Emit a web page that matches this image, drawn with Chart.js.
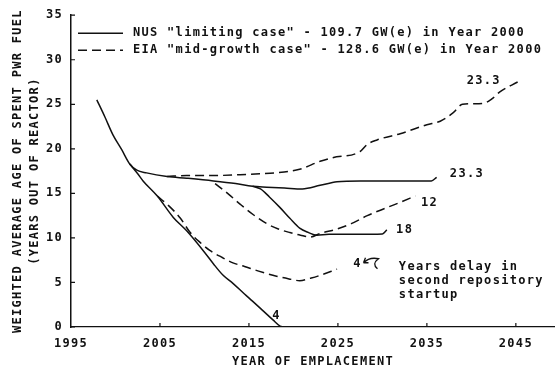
<!DOCTYPE html>
<html>
<head>
<meta charset="utf-8">
<script src="https://cdn.jsdelivr.net/npm/chart.js@4.4.0/dist/chart.umd.min.js"></script>
<style>
  html, body { margin:0; padding:0; background:#fff; }
  #wrap { width:555px; height:369px; position:relative; }
</style>
</head>
<body>
<div id="wrap"><canvas id="chart"></canvas></div>
<script>
/* spent PWR fuel age vs year of emplacement */

const xTickYears = [1995, 2005, 2015, 2025, 2035, 2045];

// NUS "limiting case" (solid)
const nusLimitYears = [1997.9, 1998.8, 1999.7, 2000.7, 2001.6, 2002.4, 2003.5, 2005.8, 2008, 2011, 2013.5, 2015.4, 2017, 2019, 2021, 2023, 2024.9, 2027.5, 2030, 2033, 2035.5, 2036.1];
const nusLimitAges  = [25.5, 23.6, 21.6, 19.9, 18.3, 17.6, 17.3, 16.9, 16.7, 16.4, 16.1, 15.8, 15.7, 15.6, 15.5, 15.9, 16.3, 16.4, 16.4, 16.4, 16.4, 16.8];

const nus18Years = [2015.4, 2016.3, 2017.3, 2018.5, 2019.6, 2020.7, 2021.7, 2022.6, 2024, 2027, 2030, 2030.5];
const nus18Ages  = [15.8, 15.5, 14.6, 13.4, 12.2, 11.1, 10.6, 10.3, 10.4, 10.4, 10.45, 10.9];

const nus4Years = [2001.6, 2002.5, 2003.1, 2004.7, 2006.5, 2008, 2010, 2011, 2012.1, 2013.2, 2014.5, 2015.4, 2016.5, 2017.7, 2018.5, 2018.9];
const nus4Ages  = [18.3, 17.2, 16.4, 14.7, 12.3, 10.8, 8.4, 7.1, 5.8, 4.9, 3.7, 2.9, 1.9, 0.8, 0.1, 0];

// EIA "mid-growth case" (dashed)
const eiaMidYears = [2005.8, 2008, 2011, 2014, 2016.2, 2018, 2020.7, 2023, 2024.4, 2027.5, 2028.3, 2029.4, 2032, 2035, 2036.5, 2037.9, 2039, 2041.3, 2042.3, 2043.2, 2045.2];
const eiaMidAges  = [16.9, 17.0, 17.0, 17.1, 17.2, 17.3, 17.7, 18.6, 19.0, 19.7, 20.5, 21.0, 21.7, 22.7, 23.1, 24.0, 25.0, 25.1, 25.6, 26.4, 27.5];

const eia12Years = [2011.2, 2012.6, 2014, 2015.5, 2017, 2018.3, 2019.6, 2020.8, 2021.9, 2023, 2024.9, 2026.5, 2028.3, 2030.5, 2032, 2033.7];
const eia12Ages  = [16.1, 15.0, 13.8, 12.6, 11.6, 11.0, 10.6, 10.3, 10.1, 10.5, 11.0, 11.6, 12.5, 13.4, 14.0, 14.7];

const eia4Years = [2004.7, 2006, 2007.3, 2008.4, 2009.5, 2010.6, 2012, 2013.2, 2014.5, 2016, 2018.1, 2019.5, 2020.7, 2022, 2023, 2024.9];
const eia4Ages  = [14.7, 13.6, 12.2, 10.6, 9.5, 8.6, 7.8, 7.2, 6.8, 6.3, 5.7, 5.4, 5.2, 5.5, 5.8, 6.5];

const legendTexts = [
  'NUS "limiting case" - 109.7 GW(e) in Year 2000',
  'EIA "mid-growth case" - 128.6 GW(e) in Year 2000'
];

const curveLabels     = ['23.3', '23.3', '12', '18', '4', '4'];
const curveLabelYears = [2041.4, 2039.5, 2035.3, 2032.5, 2018.1, 2027.2];
const curveLabelAges  = [27.6, 17.2, 13.9, 10.9, 1.3, 7.1];

const noteLines = ['Years delay in', 'second repository', 'startup'];
const noteYear = 2031.85;
const noteAges = [6.8, 5.2, 3.6];

const INK = '#111';
const FONT = '"DejaVu Sans Mono", "Liberation Mono", monospace';
const DASH = [9, 5];

function pts(xs, ys){
  return xs.map((x, i) => ({ x, y: ys[i] }));
}

function line(data, dashed){
  return {
    data,
    borderColor: INK,
    borderWidth: 1.5,
    borderDash: dashed ? DASH : [],
    pointRadius: 0,
    fill: false,
    cubicInterpolationMode: 'monotone'
  };
}

const plotterText = {
  id: 'plotterText',
  beforeDraw(chart){
    chart.ctx.letterSpacing = '1.3px';
  },
  afterDatasetsDraw(chart){
    const { ctx, chartArea: a, scales: { x, y } } = chart;
    ctx.save();
    ctx.letterSpacing = '1.3px';
    ctx.strokeStyle = INK;
    ctx.fillStyle = INK;
    ctx.lineWidth = 1.2;

    // small inward tick marks
    ctx.beginPath();
    for (let v = 0; v <= 35; v += 5){
      const py = y.getPixelForValue(v);
      ctx.moveTo(a.left, py); ctx.lineTo(a.left + 4, py);
    }
    xTickYears.slice(1).forEach(t => {
      const px = x.getPixelForValue(t);
      ctx.moveTo(px, a.bottom); ctx.lineTo(px, a.bottom - 4);
    });
    ctx.stroke();

    // legend
    ctx.font = 'bold 12px ' + FONT;
    ctx.textBaseline = 'middle';
    ctx.textAlign = 'left';
    ctx.lineWidth = 1.5;
    legendTexts.forEach((t, i) => {
      const ly = a.top + 18 + i * 17;
      ctx.setLineDash(i === 0 ? [] : DASH);
      ctx.beginPath();
      ctx.moveTo(a.left + 7, ly); ctx.lineTo(a.left + 52, ly);
      ctx.stroke();
      ctx.fillText(t, a.left + 62, ly);
    });
    ctx.setLineDash([]);

    // curve labels
    ctx.textAlign = 'center';
    curveLabels.forEach((t, i) => {
      ctx.fillText(t, x.getPixelForValue(curveLabelYears[i]), y.getPixelForValue(curveLabelAges[i]));
    });

    // little hooked arrow next to the dashed "4"
    const ax = x.getPixelForValue(curveLabelYears[5]);
    const ay = y.getPixelForValue(curveLabelAges[5]);
    ctx.lineWidth = 1.3;
    ctx.beginPath();
    ctx.moveTo(ax + 6, ay - 1);
    ctx.quadraticCurveTo(ax + 12, ay - 7, ax + 21, ay - 5);
    ctx.quadraticCurveTo(ax + 14, ay, ax + 20, ay + 5);
    ctx.moveTo(ax + 6, ay - 1); ctx.lineTo(ax + 8, ay - 6);
    ctx.moveTo(ax + 6, ay - 1); ctx.lineTo(ax + 11, ay - 1);
    ctx.stroke();

    // note text
    ctx.textAlign = 'left';
    noteLines.forEach((t, i) => {
      ctx.fillText(t, x.getPixelForValue(noteYear), y.getPixelForValue(noteAges[i]));
    });
    ctx.restore();
  }
};

Chart.defaults.font.family = FONT;
Chart.defaults.font.size = 12;
Chart.defaults.font.weight = 'bold';
Chart.defaults.color = INK;

new Chart(document.getElementById('chart'), {
  type: 'line',
  data: {
    datasets: [
      line(pts(nusLimitYears, nusLimitAges), false),
      line(pts(nus18Years, nus18Ages), false),
      line(pts(nus4Years, nus4Ages), false),
      line(pts(eiaMidYears, eiaMidAges), true),
      line(pts(eia12Years, eia12Ages), true),
      line(pts(eia4Years, eia4Ages), true)
    ]
  },
  options: {
    responsive: true,
    maintainAspectRatio: false,
    animation: false,
    devicePixelRatio: 1,
    layout: { padding: { top: 13, right: 0, left: 0, bottom: 0 } },
    plugins: { legend: { display: false }, tooltip: { enabled: false } },
    scales: {
      x: {
        type: 'linear',
        min: 1995,
        max: 2049.4,
        afterBuildTicks: s => { s.ticks = xTickYears.map(v => ({ value: v })); },
        afterFit: s => { s.height = 42; },
        grid: { display: false, drawTicks: false },
        border: { display: true, color: INK, width: 1.3, dash: [14, 3, 2, 3] },
        ticks: { padding: 10, maxRotation: 0, color: INK, font: { size: 12, weight: 'bold' }, callback: v => String(v) },
        title: {
          display: true,
          text: 'YEAR OF EMPLACEMENT',
          color: INK,
          font: { size: 12, weight: 'bold', lineHeight: '14px' },
          padding: { top: 0, bottom: 0 }
        }
      },
      y: {
        min: 0,
        max: 35,
        afterFit: s => { s.width = 71; },
        grid: { display: false, drawTicks: false },
        border: { display: true, color: INK, width: 1.5 },
        ticks: { stepSize: 5, padding: 8, color: INK, font: { size: 12, weight: 'bold' }, callback: v => String(v) },
        title: {
          display: true,
          text: ['WEIGHTED AVERAGE AGE OF SPENT PWR FUEL', '(YEARS OUT OF REACTOR)'],
          color: INK,
          font: { size: 12, weight: 'bold', lineHeight: '17px' },
          padding: { top: 9.5, bottom: 0 }
        }
      }
    }
  },
  plugins: [plotterText]
});
</script>
</body>
</html>
